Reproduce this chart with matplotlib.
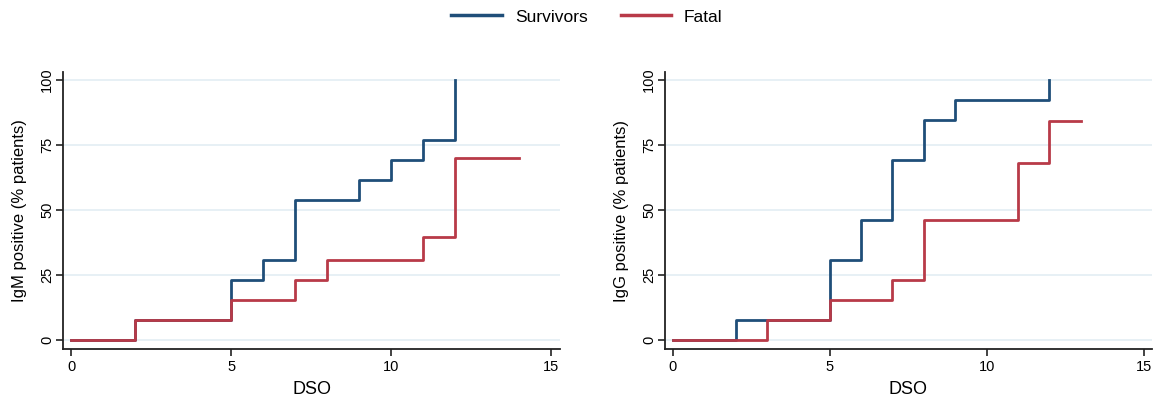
import matplotlib
matplotlib.use("Agg")
import matplotlib.pyplot as plt
from matplotlib.lines import Line2D

plt.rcParams['font.family'] = ['Liberation Sans', 'DejaVu Sans']

# IgM panel
igm_surv_x = [0, 2, 5, 6, 7, 9, 10, 11, 12, 12]
igm_surv_y = [0, 7.7, 23.1, 30.8, 53.8, 61.5, 69.2, 76.9, 100, 100]
igm_fatal_x = [0, 2, 5, 7, 8, 11, 12, 14]
igm_fatal_y = [0, 7.7, 15.4, 23.1, 30.8, 39.5, 70.0, 70.0]

# IgG panel
igg_surv_x = [0, 2, 5, 6, 7, 8, 9, 12, 12]
igg_surv_y = [0, 7.7, 30.8, 46.2, 69.2, 84.6, 92.3, 100, 100]
igg_fatal_x = [0, 3, 5, 7, 8, 11, 12, 13]
igg_fatal_y = [0, 7.7, 15.4, 23.1, 46.2, 67.9, 84.0, 84.0]

yticks = [0, 25, 50, 75, 100]
xticks = [0, 5, 10, 15]
series_labels = ["Survivors", "Fatal"]

BLUE = "#1f4e79"
RED = "#b83a48"
GRID = "#e3eef3"

fig = plt.figure(figsize=(11.54, 3.99), dpi=100)
W, H = 1154, 399

def make_ax(left, right, top, bottom):
    return fig.add_axes([left / W, 1 - bottom / H, (right - left) / W, (bottom - top) / H])

ax1 = make_ax(63, 560, 72, 349)
ax2 = make_ax(665, 1152, 72, 349)

panels = [
    (ax1, igm_surv_x, igm_surv_y, igm_fatal_x, igm_fatal_y, "IgM positive (% patients)"),
    (ax2, igg_surv_x, igg_surv_y, igg_fatal_x, igg_fatal_y, "IgG positive (% patients)"),
]

for ax, sx, sy, fx, fy, ylab in panels:
    for yt in yticks:
        ax.axhline(yt, color=GRID, lw=1.2, zorder=0)
    ax.step(sx, sy, where="post", color=BLUE, lw=2.0, zorder=2)
    ax.step(fx, fy, where="post", color=RED, lw=2.0, zorder=3)
    ax.set_xlim(-0.25, 15.27)
    ax.set_ylim(-3.5, 103)
    ax.set_xticks(xticks)
    ax.set_yticks(yticks)
    ax.set_yticklabels([str(v) for v in yticks], rotation=90, va="center")
    ax.tick_params(axis="both", labelsize=10.5, color="#222222", length=5, width=1.2, pad=3)
    ax.tick_params(axis="y", pad=1.5)
    for s in ["top", "right"]:
        ax.spines[s].set_visible(False)
    for s in ["left", "bottom"]:
        ax.spines[s].set_linewidth(1.3)
        ax.spines[s].set_color("#222222")
    ax.set_xlabel("DSO", fontsize=13, labelpad=5)
    ax.set_ylabel(ylab, fontsize=12, labelpad=9)

handles = [Line2D([0], [0], color=BLUE, lw=2.5), Line2D([0], [0], color=RED, lw=2.5)]
fig.legend(handles, series_labels, loc="center", bbox_to_anchor=(587 / W, 1 - 17 / H), ncol=2,
           frameon=False, fontsize=12.5, handlelength=2.9, columnspacing=1.9, handletextpad=0.75)

fig.savefig("out.png", dpi=100)
